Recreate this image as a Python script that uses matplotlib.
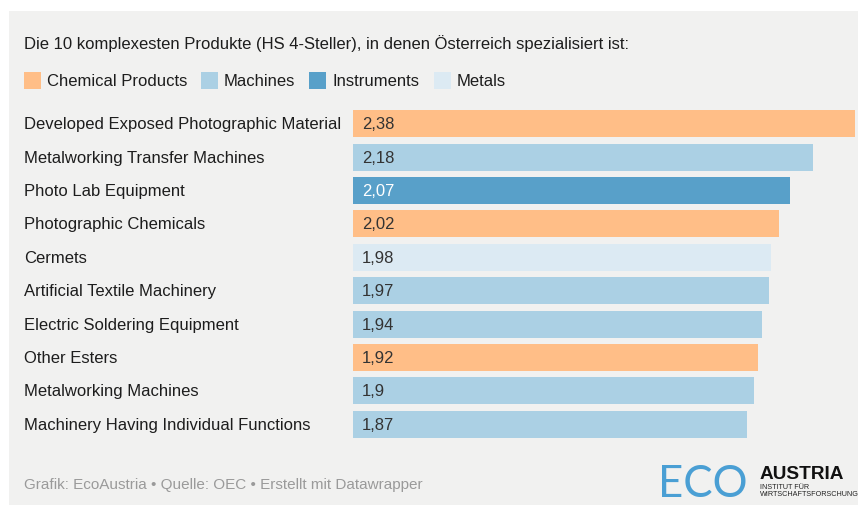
import matplotlib
matplotlib.use('Agg')
import matplotlib.pyplot as plt
import matplotlib.transforms as mtransforms
from matplotlib.patches import Rectangle

plt.rcParams['font.family'] = ['Liberation Sans', 'DejaVu Sans']

# data
products = ['Developed Exposed Photographic Material', 'Metalworking Transfer Machines',
            'Photo Lab Equipment', 'Photographic Chemicals', 'Cermets',
            'Artificial Textile Machinery', 'Electric Soldering Equipment',
            'Other Esters', 'Metalworking Machines', 'Machinery Having Individual Functions']
values = [2.38, 2.18, 2.07, 2.02, 1.98, 1.97, 1.94, 1.92, 1.90, 1.87]
value_labels = ['2,38', '2,18', '2,07', '2,02', '1,98', '1,97', '1,94', '1,92', '1,9', '1,87']
groups = ['Chemical Products', 'Machines', 'Instruments', 'Chemical Products', 'Metals',
          'Machines', 'Machines', 'Chemical Products', 'Machines', 'Machines']
categories = ['Chemical Products', 'Machines', 'Instruments', 'Metals']
colors = {'Chemical Products': '#ffbe87', 'Machines': '#abd0e4',
          'Instruments': '#58a0c9', 'Metals': '#dceaf3'}

W, H = 858, 506
BG = '#f1f1f0'
FS = 12

def fx(px):
    return px / W

def fy(py):
    return 1 - py / H

fig = plt.figure(figsize=(W / 100, H / 100), dpi=100)
fig.patch.set_facecolor('white')
fig.patches.append(Rectangle((fx(9), 0), 1 - fx(9), fy(12), transform=fig.transFigure,
                             facecolor=BG, edgecolor='none', zorder=-10))

# bars area
top, bottom = 108.3, 441.7
ax = fig.add_axes([fx(353), fy(bottom), fx(855) - fx(353), (bottom - top) / H])
ax.set_facecolor('none')
ypos = list(range(len(values)))
ax.barh(ypos, values, height=0.81, color=[colors[g] for g in groups], edgecolor='none')
ax.set_xlim(0, 2.38)
ax.set_ylim(len(values) - 0.5, -0.5)
ax.axis('off')

trans = mtransforms.blended_transform_factory(fig.transFigure, ax.transData)
for i, (name, lab, g) in enumerate(zip(products, value_labels, groups)):
    ax.text(fx(24), i, name, transform=trans, ha='left', va='center',
            fontsize=FS, color='#1d1d1d')
    ax.annotate(lab, (0, i), xytext=(6.5, 0), textcoords='offset points',
                ha='left', va='center', fontsize=FS,
                color='white' if g == 'Instruments' else '#333333')

# title
fig.text(fx(24), fy(44), 'Die 10 komplexesten Produkte (HS 4-Steller), in denen Österreich spezialisiert ist:',
         ha='left', va='center', fontsize=FS, color='#1d1d1d')

# legend
leg_x = [24, 201, 309, 434]
for x, cat in zip(leg_x, categories):
    fig.patches.append(Rectangle((fx(x), fy(90)), 17 / W, 17 / H, transform=fig.transFigure,
                                 facecolor=colors[cat], edgecolor='none'))
    fig.text(fx(x + 23), fy(81.5), cat, ha='left', va='center', fontsize=FS, color='#1d1d1d')

# footer
fig.text(fx(24), fy(485), 'Grafik: EcoAustria • Quelle: OEC • Erstellt mit Datawrapper',
         ha='left', va='center', fontsize=11, color='#9a9a9a')

# logo
fig.text(fx(658), fy(497), 'ECO', ha='left', va='baseline', fontsize=31.5,
         family=['Lato', 'DejaVu Sans'], color='#4a9fd4')
fig.text(fx(760), fy(479), 'AUSTRIA', ha='left', va='baseline', fontsize=13.7,
         fontweight='bold', color='#111111')
fig.text(fx(760), fy(489), 'INSTITUT FÜR', ha='left', va='baseline', fontsize=5.2,
         color='#222222')
fig.text(fx(760), fy(496), 'WIRTSCHAFTSFORSCHUNG', ha='left', va='baseline', fontsize=5.2,
         color='#222222')

fig.savefig('out.png', dpi=100, facecolor=fig.get_facecolor())
